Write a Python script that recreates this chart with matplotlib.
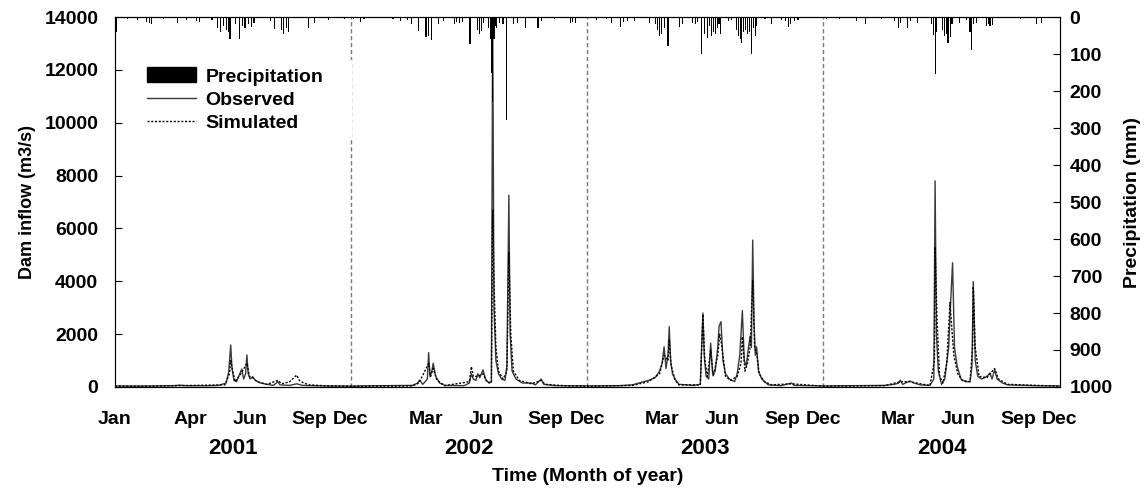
import matplotlib.pyplot as plt
import matplotlib.patches as mpatches
from matplotlib.lines import Line2D

plt.rcParams['font.family'] = ['Liberation Sans', 'DejaVu Sans']
plt.rcParams['font.weight'] = 'bold'

# days counted from 1 Jan 2001
obs_day = [0, 30, 60, 90, 100, 110, 140, 160, 172, 176, 179, 181, 184, 188, 193, 196, 199, 202, 204, 206, 209, 213, 217, 225, 235, 245, 252, 255, 270, 281, 290, 320, 365,
           380, 420, 460, 468, 471, 476, 483, 485, 487, 490, 492, 496, 502, 510, 540, 548, 551, 554, 558, 561, 564, 569, 573, 578, 582, 584, 586, 589, 593, 598, 603, 606, 609, 611, 614, 620, 630, 644, 650, 659, 663, 680, 730,
           740, 780, 800, 810, 825, 835, 842, 846, 849, 852, 855, 857, 859, 862, 866, 872, 895, 905, 909, 911, 914, 918, 921, 924, 928, 932, 934, 937, 940, 944, 950, 958, 962, 966, 970, 973, 976, 979, 982, 984, 986, 988, 990, 992, 995, 1000, 1010, 1030, 1046, 1050, 1095,
           1100, 1150, 1190, 1205, 1212, 1214, 1218, 1225, 1229, 1235, 1245, 1260, 1266, 1268, 1270, 1273, 1278, 1283, 1286, 1289, 1292, 1295, 1298, 1302, 1308, 1315, 1322, 1325, 1327, 1330, 1334, 1340, 1348, 1353, 1356, 1360, 1364, 1372, 1380, 1420, 1461]
obs_val = [40, 35, 40, 50, 70, 50, 45, 60, 150, 600, 1590, 700, 250, 200, 500, 680, 300, 500, 1210, 500, 300, 390, 250, 150, 100, 60, 200, 80, 60, 120, 60, 40, 35,
           40, 50, 60, 150, 260, 100, 300, 1300, 400, 600, 900, 400, 150, 60, 50, 150, 500, 300, 250, 500, 350, 650, 300, 150, 200, 14000, 3000, 1000, 500, 300, 250, 800, 7260, 2000, 600, 300, 150, 150, 80, 300, 100, 50, 40,
           40, 50, 80, 150, 250, 350, 600, 900, 1520, 700, 1200, 2280, 1000, 500, 300, 100, 60, 100, 2800, 1200, 400, 300, 1660, 500, 600, 1500, 2300, 2470, 1000, 500, 300, 200, 500, 1200, 2890, 1000, 800, 1400, 1930, 1500, 5560, 2500, 1200, 1520, 600, 300, 80, 50, 150, 60, 40,
           40, 50, 60, 100, 150, 260, 100, 180, 230, 150, 80, 60, 300, 7800, 2000, 600, 100, 300, 900, 1500, 3200, 4700, 1500, 800, 300, 200, 200, 800, 3990, 1000, 400, 300, 400, 530, 300, 650, 300, 150, 80, 50, 40]

sim_day = [0, 60, 100, 170, 177, 179, 182, 186, 196, 204, 208, 213, 220, 235, 252, 258, 270, 281, 285, 292, 300, 330, 365,
           380, 460, 470, 485, 488, 492, 498, 510, 548, 551, 554, 561, 569, 575, 582, 584, 586, 589, 593, 600, 606, 609, 612, 616, 625, 644, 659, 665, 700, 730,
           740, 800, 825, 842, 849, 855, 857, 860, 866, 872, 905, 909, 912, 916, 921, 925, 932, 935, 938, 944, 952, 962, 968, 970, 974, 978, 982, 986, 989, 992, 996, 1004, 1015, 1046, 1095,
           1100, 1190, 1214, 1229, 1260, 1267, 1268, 1271, 1275, 1280, 1286, 1291, 1293, 1297, 1303, 1310, 1322, 1326, 1327, 1330, 1336, 1348, 1353, 1360, 1366, 1380, 1461]
sim_val = [30, 30, 50, 80, 500, 1000, 600, 200, 550, 900, 400, 350, 200, 100, 250, 120, 200, 450, 250, 150, 80, 40, 30,
           30, 40, 150, 900, 400, 700, 250, 50, 200, 770, 400, 400, 500, 200, 150, 6700, 4000, 1500, 600, 300, 600, 5100, 2000, 600, 250, 120, 250, 100, 40, 30,
           30, 60, 200, 500, 1200, 1000, 1800, 800, 250, 80, 80, 2750, 1000, 400, 1400, 400, 1200, 2000, 1600, 400, 250, 400, 900, 1900, 600, 900, 1500, 4050, 1500, 1300, 500, 200, 80, 120, 30,
           30, 50, 200, 200, 50, 1000, 5300, 2500, 400, 150, 900, 3200, 2500, 1200, 500, 250, 200, 1500, 3800, 1500, 400, 350, 500, 700, 300, 100, 30]

rain_day = [2, 20, 35, 49, 53, 57, 75, 97, 110, 126, 131, 150, 159, 163, 168, 172, 175, 178, 186, 192, 197, 201, 206, 211, 215, 240, 247, 257, 261, 265, 268, 299, 308, 330, 355,
            369, 379, 385, 430, 441, 452, 459, 469, 481, 485, 490, 500, 508, 525, 528, 533, 537, 549, 560, 563, 567, 570, 578, 580, 582, 584, 586, 588, 590, 595, 600, 605, 616, 622, 635, 654, 660, 680, 704, 708, 712,
            745, 760, 768, 781, 786, 793, 803, 827, 836, 839, 842, 845, 849, 855, 873, 878, 893, 897, 901, 907, 912, 916, 919, 922, 925, 928, 931, 934, 936, 948, 953, 961, 964, 967, 969, 972, 975, 978, 981, 984, 987, 990, 992, 1005, 1015, 1030, 1037, 1041, 1045, 1050, 1056,
            1100, 1120, 1147, 1160, 1185, 1205, 1211, 1215, 1225, 1230, 1241, 1262, 1265, 1268, 1270, 1280, 1283, 1286, 1288, 1292, 1294, 1306, 1316, 1322, 1324, 1327, 1332, 1347, 1350, 1353, 1357, 1400, 1425, 1432]
rain_mm = [40, 5, 8, 12, 15, 18, 6, 15, 8, 10, 12, 8, 30, 40, 25, 35, 40, 60, 20, 60, 25, 30, 20, 28, 15, 10, 33, 35, 45, 30, 40, 30, 15, 8, 6,
           6, 14, 5, 5, 10, 8, 20, 38, 55, 50, 63, 20, 10, 18, 12, 15, 12, 74, 35, 45, 38, 15, 30, 60, 150, 230, 60, 25, 30, 15, 20, 278, 20, 15, 30, 30, 10, 6, 15, 12, 15,
           8, 6, 15, 28, 12, 10, 10, 15, 20, 35, 50, 45, 30, 78, 28, 20, 15, 20, 12, 100, 45, 57, 25, 50, 40, 45, 30, 20, 45, 10, 8, 35, 50, 60, 70, 40, 35, 45, 40, 100, 30, 50, 25, 5, 20, 8, 10, 28, 20, 10, 8,
           4, 5, 10, 20, 5, 10, 30, 15, 30, 10, 15, 20, 48, 155, 40, 35, 50, 45, 70, 55, 20, 15, 8, 40, 88, 20, 15, 25, 20, 25, 22, 5, 20, 15]

month_day = [0, 116, 209, 301, 365, 481, 574, 666, 730, 846, 939, 1031, 1095, 1211, 1304, 1396, 1461]
month_lab = ['Jan', 'Apr', 'Jun', 'Sep', 'Dec', 'Mar', 'Jun', 'Sep', 'Dec',
             'Mar', 'Jun', 'Sep', 'Dec', 'Mar', 'Jun', 'Sep', 'Dec']
years = ['2001', '2002', '2003', '2004']
year_mid = [182, 547, 912, 1278]
year_edges = [365, 730, 1095]

fig = plt.figure(figsize=(11.46, 4.88), dpi=100)
ax1 = fig.add_axes([0.1003, 0.207, 0.8246, 0.758])
ax2 = ax1.twinx()

for d in year_edges:
    ax1.axvline(d, color='#777777', lw=1, ls=(0, (3, 2)), zorder=1)
ax1.plot(obs_day, obs_val, color='#3a3a3a', lw=1.0, zorder=3)
ax1.plot(sim_day, sim_val, color='black', lw=1.0, ls=(0, (1.5, 1.2)), zorder=4)

ax2.bar(rain_day, rain_mm, width=1.8, color='black', align='center')

ax1.set_xlim(0, 1461)
ax1.set_ylim(0, 14000)
ax2.set_ylim(1000, 0)
ax1.set_yticks(range(0, 14001, 2000))
ax2.set_yticks(range(0, 1001, 100))
ax1.set_xticks(month_day)
ax1.set_xticklabels(month_lab)
ax1.tick_params(axis='x', length=0, pad=17, labelsize=14)
ax1.tick_params(axis='y', direction='in', length=5, labelsize=14, pad=12)
ax2.tick_params(axis='y', direction='in', length=5, labelsize=14, pad=7)

for lab, d in zip(years, year_mid):
    ax1.text(d, -0.167, lab, transform=ax1.get_xaxis_transform(), ha='center', va='center',
             fontsize=16, fontweight='bold')

ax1.set_xlabel('Time (Month of year)', fontsize=14, fontweight='bold', labelpad=29)
ax1.set_ylabel('Dam inflow (m3/s)', fontsize=13, fontweight='bold', labelpad=6)
ax2.set_ylabel('Precipitation (mm)', fontsize=14, fontweight='bold', labelpad=8)

handles = [mpatches.Patch(color='black'),
           Line2D([], [], color='#3a3a3a', lw=1.0),
           Line2D([], [], color='black', lw=1.0, ls=(0, (1.5, 1.2)))]
leg = ax2.legend(handles, ['Precipitation', 'Observed', 'Simulated'], loc='upper left',
                 bbox_to_anchor=(0.026, 0.695, 0.225, 0.19), mode='expand',
                 frameon=True, fancybox=False, edgecolor='none', facecolor='white', framealpha=1,
                 fontsize=14, handlelength=2.5, handleheight=0.8, labelspacing=0.25,
                 borderaxespad=0, borderpad=0.4, handletextpad=0.5)

fig.savefig('out.png', dpi=100)
